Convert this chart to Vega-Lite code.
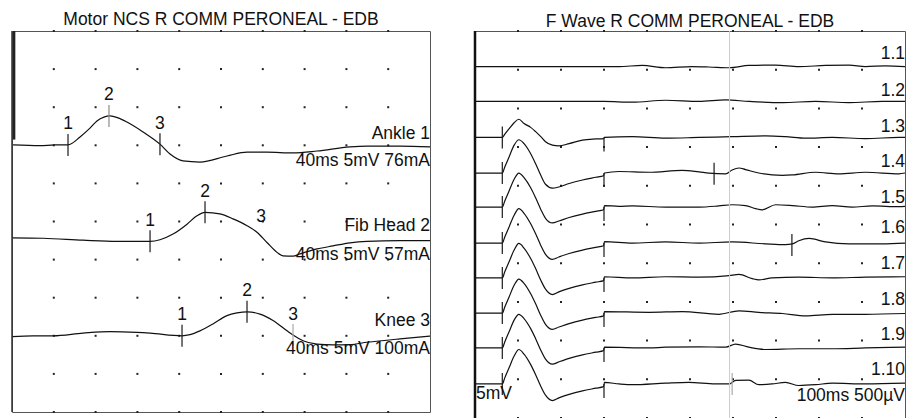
{
 "$schema": "https://vega.github.io/schema/vega-lite/v6.json",
 "padding": {"left": 9, "top": 10, "right": 0, "bottom": 0},
 "background": "white",
 "config": {
  "view": {"stroke": "#555", "strokeWidth": 1},
  "concat": {"spacing": 39},
  "font": "Liberation Sans",
  "title": {"fontSize": 17.5, "fontWeight": "normal", "color": "#111", "font": "Liberation Sans", "anchor": "middle"},
  "text": {"font": "Liberation Sans", "fontSize": 17.5, "color": "#111"}
 },
 "datasets": {
  "ltr": [
   {"trace":"Ankle","t":0.1,"v":7.01},{"trace":"Ankle","t":2.68,"v":6.99},{"trace":"Ankle","t":4.11,"v":7.01},{"trace":"Ankle","t":5.36,"v":7.01},{"trace":"Ankle","t":6.51,"v":7.22},{"trace":"Ankle","t":7.46,"v":7.45},{"trace":"Ankle","t":8.13,"v":7.64},{"trace":"Ankle","t":8.8,"v":7.74},{"trace":"Ankle","t":9.38,"v":7.77},{"trace":"Ankle","t":10.14,"v":7.72},{"trace":"Ankle","t":11.0,"v":7.61},{"trace":"Ankle","t":12.54,"v":7.35},{"trace":"Ankle","t":14.16,"v":7.03},{"trace":"Ankle","t":15.12,"v":6.77},{"trace":"Ankle","t":16.36,"v":6.59},{"trace":"Ankle","t":17.99,"v":6.56},{"trace":"Ankle","t":20.57,"v":6.72},{"trace":"Ankle","t":22.49,"v":6.82},{"trace":"Ankle","t":24.4,"v":6.82},{"trace":"Ankle","t":26.89,"v":6.8},{"trace":"Ankle","t":29.19,"v":6.85},{"trace":"Ankle","t":32.34,"v":6.96},{"trace":"Ankle","t":33.97,"v":6.98},{"trace":"Ankle","t":37.13,"v":6.98},{"trace":"Ankle","t":40.0,"v":6.96},
   {"trace":"Fib Head","t":0.0,"v":4.57},{"trace":"Fib Head","t":2.97,"v":4.56},{"trace":"Fib Head","t":6.79,"v":4.51},{"trace":"Fib Head","t":10.05,"v":4.48},{"trace":"Fib Head","t":13.21,"v":4.48},{"trace":"Fib Head","t":14.16,"v":4.52},{"trace":"Fib Head","t":15.41,"v":4.67},{"trace":"Fib Head","t":16.75,"v":4.93},{"trace":"Fib Head","t":17.7,"v":5.15},{"trace":"Fib Head","t":18.47,"v":5.24},{"trace":"Fib Head","t":19.9,"v":5.2},{"trace":"Fib Head","t":21.15,"v":5.07},{"trace":"Fib Head","t":22.49,"v":4.89},{"trace":"Fib Head","t":23.44,"v":4.72},{"trace":"Fib Head","t":24.4,"v":4.45},{"trace":"Fib Head","t":25.36,"v":4.19},{"trace":"Fib Head","t":25.93,"v":4.1},{"trace":"Fib Head","t":26.89,"v":4.09},{"trace":"Fib Head","t":27.56,"v":4.15},{"trace":"Fib Head","t":29.19,"v":4.28},{"trace":"Fib Head","t":30.72,"v":4.36},{"trace":"Fib Head","t":32.34,"v":4.44},{"trace":"Fib Head","t":33.97,"v":4.48},{"trace":"Fib Head","t":37.13,"v":4.5},{"trace":"Fib Head","t":40.0,"v":4.5},
   {"trace":"Knee","t":0.0,"v":1.98},{"trace":"Knee","t":2.01,"v":2.0},{"trace":"Knee","t":3.92,"v":2.0},{"trace":"Knee","t":6.79,"v":2.07},{"trace":"Knee","t":9.38,"v":2.11},{"trace":"Knee","t":11.96,"v":2.09},{"trace":"Knee","t":13.21,"v":2.07},{"trace":"Knee","t":16.27,"v":2.0},{"trace":"Knee","t":17.03,"v":2.03},{"trace":"Knee","t":17.99,"v":2.13},{"trace":"Knee","t":19.23,"v":2.31},{"trace":"Knee","t":20.57,"v":2.53},{"trace":"Knee","t":21.53,"v":2.6},{"trace":"Knee","t":22.49,"v":2.63},{"trace":"Knee","t":23.73,"v":2.57},{"trace":"Knee","t":24.98,"v":2.4},{"trace":"Knee","t":26.32,"v":2.13},{"trace":"Knee","t":26.89,"v":2.02},{"trace":"Knee","t":27.85,"v":1.87},{"trace":"Knee","t":29.19,"v":1.78},{"trace":"Knee","t":30.72,"v":1.76},{"trace":"Knee","t":32.34,"v":1.77},{"trace":"Knee","t":33.97,"v":1.83},{"trace":"Knee","t":37.13,"v":1.92},{"trace":"Knee","t":40.0,"v":1.99}
  ],
  "lgrid": [
   {"t":4,"vs":[0,1,2,3,4,5,6,7,8,9,10]},{"t":8,"vs":[0,1,2,3,4,5,6,7,8,9,10]},{"t":12,"vs":[0,1,2,3,4,5,6,7,8,9,10]},{"t":16,"vs":[0,1,2,3,4,5,6,7,8,9,10]},{"t":20,"vs":[0,1,2,3,4,5,6,7,8,9,10]},{"t":24,"vs":[0,1,2,3,4,5,6,7,8,9,10]},{"t":28,"vs":[0,1,2,3,4,5,6,7,8,9,10]},{"t":32,"vs":[0,1,2,3,4,5,6,7,8,9,10]},{"t":36,"vs":[0,1,2,3,4,5,6,7,8,9,10]}
  ],
  "fgrid": [
   {"t":10,"vs":[0,1,2,3,4,5,6,7,8,9,10]},{"t":20,"vs":[0,1,2,3,4,5,6,7,8,9,10]},{"t":30,"vs":[0,1,2,3,4,5,6,7,8,9,10]},{"t":40,"vs":[0,1,2,3,4,5,6,7,8,9,10]},{"t":50,"vs":[0,1,2,3,4,5,6,7,8,9,10]},{"t":60,"vs":[0,1,2,3,4,5,6,7,8,9,10]},{"t":70,"vs":[0,1,2,3,4,5,6,7,8,9,10]},{"t":80,"vs":[0,1,2,3,4,5,6,7,8,9,10]},{"t":90,"vs":[0,1,2,3,4,5,6,7,8,9,10]}
  ],
  "lmk": [
   {"trace":"Ankle","m":"1","t":5.36,"v":7.01,"tone":"dark"},
   {"trace":"Ankle","m":"2","t":9.28,"v":7.77,"tone":"gray"},
   {"trace":"Ankle","m":"3","t":14.16,"v":7.03,"tone":"dark"},
   {"trace":"Fib Head","m":"1","t":13.21,"v":4.48,"tone":"dark"},
   {"trace":"Fib Head","m":"2","t":18.47,"v":5.24,"tone":"dark"},
   {"trace":"Fib Head","m":"3","t":23.83,"v":4.59,"tone":"none"},
   {"trace":"Knee","m":"1","t":16.27,"v":2.0,"tone":"dark"},
   {"trace":"Knee","m":"2","t":22.49,"v":2.63,"tone":"dark"},
   {"trace":"Knee","m":"3","t":26.89,"v":2.02,"tone":"light"}
  ],
  "llab": [
   {"t":40,"v":7.17,"text":"Ankle 1"},
   {"t":40,"v":6.46,"text":"40ms 5mV 76mA"},
   {"t":40,"v":4.75,"text":"Fib Head 2"},
   {"t":40,"v":3.99,"text":"40ms 5mV 57mA"},
   {"t":40,"v":2.26,"text":"Knee 3"},
   {"t":40,"v":1.52,"text":"40ms 5mV 100mA"}
  ],
  "ftr": [
   {"trace":"1.1","t":0,"v":9.08},{"trace":"1.1","t":15,"v":9.08},{"trace":"1.1","t":30,"v":9.08},{"trace":"1.1","t":33.5,"v":9.08},{"trace":"1.1","t":38.9,"v":9.11},{"trace":"1.1","t":44.3,"v":9.05},{"trace":"1.1","t":50.5,"v":9.08},{"trace":"1.1","t":54.4,"v":9.07},{"trace":"1.1","t":59.1,"v":9.05},{"trace":"1.1","t":63.7,"v":9.11},{"trace":"1.1","t":69.9,"v":9.12},{"trace":"1.1","t":75.3,"v":9.08},{"trace":"1.1","t":81.5,"v":9.11},{"trace":"1.1","t":87.0,"v":9.12},{"trace":"1.1","t":90.8,"v":9.08},{"trace":"1.1","t":95.5,"v":9.1},{"trace":"1.1","t":100,"v":9.08},
   {"trace":"1.2","t":0,"v":8.18},{"trace":"1.2","t":15,"v":8.18},{"trace":"1.2","t":30,"v":8.18},{"trace":"1.2","t":36.6,"v":8.16},{"trace":"1.2","t":44.3,"v":8.21},{"trace":"1.2","t":52.1,"v":8.18},{"trace":"1.2","t":58.3,"v":8.22},{"trace":"1.2","t":63.7,"v":8.18},{"trace":"1.2","t":71.5,"v":8.15},{"trace":"1.2","t":79.2,"v":8.18},{"trace":"1.2","t":87.0,"v":8.15},{"trace":"1.2","t":94.7,"v":8.18},{"trace":"1.2","t":100,"v":8.18},
   {"trace":"1.3","t":0,"v":7.25},{"trace":"1.3","t":3.3,"v":7.25},{"trace":"1.3","t":6.35,"v":7.25},{"trace":"1.3","t":6.9,"v":7.33},{"trace":"1.3","t":7.9,"v":7.47},{"trace":"1.3","t":9.1,"v":7.63},{"trace":"1.3","t":10.2,"v":7.72},{"trace":"1.3","t":11.4,"v":7.61},{"trace":"1.3","t":12.95,"v":7.51},{"trace":"1.3","t":14.1,"v":7.4},{"trace":"1.3","t":15.3,"v":7.27},{"trace":"1.3","t":16.4,"v":7.14},{"trace":"1.3","t":18.0,"v":7.05},{"trace":"1.3","t":19.5,"v":7.03},{"trace":"1.3","t":21.9,"v":7.09},{"trace":"1.3","t":25.0,"v":7.18},{"trace":"1.3","t":28.1,"v":7.21},{"trace":"1.3","t":29.9,"v":7.22},{"trace":"1.3","t":30.1,"v":7.25},{"trace":"1.3","t":36.6,"v":7.27},{"trace":"1.3","t":44.3,"v":7.23},{"trace":"1.3","t":52.1,"v":7.25},{"trace":"1.3","t":59.8,"v":7.27},{"trace":"1.3","t":67.6,"v":7.29},{"trace":"1.3","t":72.2,"v":7.27},{"trace":"1.3","t":76.9,"v":7.23},{"trace":"1.3","t":83.1,"v":7.25},{"trace":"1.3","t":90.8,"v":7.22},{"trace":"1.3","t":98.6,"v":7.25},{"trace":"1.3","t":100,"v":7.25},
   {"trace":"1.4","t":0,"v":6.33},{"trace":"1.4","t":3.3,"v":6.33},{"trace":"1.4","t":6.35,"v":6.33},{"trace":"1.4","t":6.9,"v":6.48},{"trace":"1.4","t":7.9,"v":6.74},{"trace":"1.4","t":9.1,"v":7.05},{"trace":"1.4","t":10.2,"v":7.19},{"trace":"1.4","t":11.4,"v":7.09},{"trace":"1.4","t":12.95,"v":6.83},{"trace":"1.4","t":14.1,"v":6.57},{"trace":"1.4","t":15.3,"v":6.27},{"trace":"1.4","t":16.4,"v":6.04},{"trace":"1.4","t":18.0,"v":5.94},{"trace":"1.4","t":19.5,"v":5.97},{"trace":"1.4","t":21.9,"v":6.06},{"trace":"1.4","t":25.0,"v":6.15},{"trace":"1.4","t":28.1,"v":6.22},{"trace":"1.4","t":29.9,"v":6.26},{"trace":"1.4","t":30.1,"v":6.33},{"trace":"1.4","t":33.5,"v":6.37},{"trace":"1.4","t":40.5,"v":6.35},{"trace":"1.4","t":48.2,"v":6.4},{"trace":"1.4","t":52.1,"v":6.36},{"trace":"1.4","t":54.4,"v":6.33},{"trace":"1.4","t":58.3,"v":6.31},{"trace":"1.4","t":59.8,"v":6.41},{"trace":"1.4","t":61.4,"v":6.46},{"trace":"1.4","t":62.9,"v":6.42},{"trace":"1.4","t":66.0,"v":6.33},{"trace":"1.4","t":71.5,"v":6.27},{"trace":"1.4","t":73.8,"v":6.28},{"trace":"1.4","t":79.2,"v":6.35},{"trace":"1.4","t":84.6,"v":6.31},{"trace":"1.4","t":90.8,"v":6.35},{"trace":"1.4","t":98.6,"v":6.31},{"trace":"1.4","t":100,"v":6.33},
   {"trace":"1.5","t":0,"v":5.45},{"trace":"1.5","t":3.3,"v":5.45},{"trace":"1.5","t":6.35,"v":5.45},{"trace":"1.5","t":6.9,"v":5.6},{"trace":"1.5","t":7.9,"v":5.86},{"trace":"1.5","t":9.1,"v":6.17},{"trace":"1.5","t":10.2,"v":6.33},{"trace":"1.5","t":11.4,"v":6.21},{"trace":"1.5","t":12.95,"v":5.95},{"trace":"1.5","t":14.1,"v":5.69},{"trace":"1.5","t":15.3,"v":5.39},{"trace":"1.5","t":16.4,"v":5.16},{"trace":"1.5","t":18.0,"v":5.04},{"trace":"1.5","t":19.5,"v":5.09},{"trace":"1.5","t":21.9,"v":5.18},{"trace":"1.5","t":25.0,"v":5.27},{"trace":"1.5","t":28.1,"v":5.34},{"trace":"1.5","t":29.9,"v":5.38},{"trace":"1.5","t":30.1,"v":5.49},{"trace":"1.5","t":33.5,"v":5.47},{"trace":"1.5","t":36.6,"v":5.48},{"trace":"1.5","t":44.3,"v":5.45},{"trace":"1.5","t":52.1,"v":5.45},{"trace":"1.5","t":56.7,"v":5.48},{"trace":"1.5","t":59.8,"v":5.51},{"trace":"1.5","t":62.9,"v":5.49},{"trace":"1.5","t":65.3,"v":5.41},{"trace":"1.5","t":66.8,"v":5.38},{"trace":"1.5","t":69.9,"v":5.51},{"trace":"1.5","t":73.8,"v":5.49},{"trace":"1.5","t":78.4,"v":5.45},{"trace":"1.5","t":83.1,"v":5.49},{"trace":"1.5","t":87.7,"v":5.45},{"trace":"1.5","t":92.4,"v":5.48},{"trace":"1.5","t":98.6,"v":5.46},{"trace":"1.5","t":100,"v":5.47},
   {"trace":"1.6","t":0,"v":4.52},{"trace":"1.6","t":3.3,"v":4.52},{"trace":"1.6","t":6.35,"v":4.52},{"trace":"1.6","t":6.9,"v":4.67},{"trace":"1.6","t":7.9,"v":4.93},{"trace":"1.6","t":9.1,"v":5.24},{"trace":"1.6","t":10.2,"v":5.41},{"trace":"1.6","t":11.4,"v":5.29},{"trace":"1.6","t":12.95,"v":5.02},{"trace":"1.6","t":14.1,"v":4.76},{"trace":"1.6","t":15.3,"v":4.46},{"trace":"1.6","t":16.4,"v":4.23},{"trace":"1.6","t":18.0,"v":4.1},{"trace":"1.6","t":19.5,"v":4.16},{"trace":"1.6","t":21.9,"v":4.25},{"trace":"1.6","t":25.0,"v":4.34},{"trace":"1.6","t":28.1,"v":4.41},{"trace":"1.6","t":29.9,"v":4.45},{"trace":"1.6","t":30.1,"v":4.56},{"trace":"1.6","t":36.6,"v":4.52},{"trace":"1.6","t":44.3,"v":4.55},{"trace":"1.6","t":52.1,"v":4.52},{"trace":"1.6","t":59.8,"v":4.55},{"trace":"1.6","t":67.6,"v":4.5},{"trace":"1.6","t":72.2,"v":4.48},{"trace":"1.6","t":73.8,"v":4.5},{"trace":"1.6","t":75.3,"v":4.58},{"trace":"1.6","t":77.7,"v":4.64},{"trace":"1.6","t":81.5,"v":4.55},{"trace":"1.6","t":87.0,"v":4.5},{"trace":"1.6","t":94.7,"v":4.5},{"trace":"1.6","t":100,"v":4.52},
   {"trace":"1.7","t":0,"v":3.62},{"trace":"1.7","t":3.3,"v":3.62},{"trace":"1.7","t":6.35,"v":3.62},{"trace":"1.7","t":6.9,"v":3.77},{"trace":"1.7","t":7.9,"v":4.03},{"trace":"1.7","t":9.1,"v":4.34},{"trace":"1.7","t":10.2,"v":4.51},{"trace":"1.7","t":11.4,"v":4.39},{"trace":"1.7","t":12.95,"v":4.12},{"trace":"1.7","t":14.1,"v":3.86},{"trace":"1.7","t":15.3,"v":3.56},{"trace":"1.7","t":16.4,"v":3.33},{"trace":"1.7","t":18.0,"v":3.19},{"trace":"1.7","t":19.5,"v":3.26},{"trace":"1.7","t":21.9,"v":3.35},{"trace":"1.7","t":25.0,"v":3.44},{"trace":"1.7","t":28.1,"v":3.51},{"trace":"1.7","t":29.9,"v":3.55},{"trace":"1.7","t":30.1,"v":3.65},{"trace":"1.7","t":36.6,"v":3.62},{"trace":"1.7","t":44.3,"v":3.65},{"trace":"1.7","t":52.1,"v":3.64},{"trace":"1.7","t":59.1,"v":3.68},{"trace":"1.7","t":61.4,"v":3.71},{"trace":"1.7","t":64.5,"v":3.6},{"trace":"1.7","t":66.0,"v":3.57},{"trace":"1.7","t":69.1,"v":3.62},{"trace":"1.7","t":75.3,"v":3.64},{"trace":"1.7","t":83.1,"v":3.62},{"trace":"1.7","t":90.8,"v":3.64},{"trace":"1.7","t":100,"v":3.65},
   {"trace":"1.8","t":0,"v":2.71},{"trace":"1.8","t":3.3,"v":2.71},{"trace":"1.8","t":6.35,"v":2.71},{"trace":"1.8","t":6.9,"v":2.86},{"trace":"1.8","t":7.9,"v":3.12},{"trace":"1.8","t":9.1,"v":3.43},{"trace":"1.8","t":10.2,"v":3.59},{"trace":"1.8","t":11.4,"v":3.48},{"trace":"1.8","t":12.95,"v":3.21},{"trace":"1.8","t":14.1,"v":2.95},{"trace":"1.8","t":15.3,"v":2.65},{"trace":"1.8","t":16.4,"v":2.42},{"trace":"1.8","t":18.0,"v":2.29},{"trace":"1.8","t":19.5,"v":2.35},{"trace":"1.8","t":21.9,"v":2.44},{"trace":"1.8","t":25.0,"v":2.53},{"trace":"1.8","t":28.1,"v":2.6},{"trace":"1.8","t":29.9,"v":2.64},{"trace":"1.8","t":30.1,"v":2.75},{"trace":"1.8","t":40.5,"v":2.73},{"trace":"1.8","t":48.2,"v":2.75},{"trace":"1.8","t":56.7,"v":2.68},{"trace":"1.8","t":61.4,"v":2.77},{"trace":"1.8","t":66.0,"v":2.73},{"trace":"1.8","t":71.5,"v":2.7},{"trace":"1.8","t":76.9,"v":2.64},{"trace":"1.8","t":83.1,"v":2.68},{"trace":"1.8","t":90.8,"v":2.68},{"trace":"1.8","t":100,"v":2.7},
   {"trace":"1.9","t":0,"v":1.81},{"trace":"1.9","t":3.3,"v":1.81},{"trace":"1.9","t":6.35,"v":1.81},{"trace":"1.9","t":6.9,"v":1.96},{"trace":"1.9","t":7.9,"v":2.22},{"trace":"1.9","t":9.1,"v":2.53},{"trace":"1.9","t":10.2,"v":2.68},{"trace":"1.9","t":11.4,"v":2.57},{"trace":"1.9","t":12.95,"v":2.31},{"trace":"1.9","t":14.1,"v":2.05},{"trace":"1.9","t":15.3,"v":1.75},{"trace":"1.9","t":16.4,"v":1.52},{"trace":"1.9","t":18.0,"v":1.39},{"trace":"1.9","t":19.5,"v":1.45},{"trace":"1.9","t":21.9,"v":1.54},{"trace":"1.9","t":25.0,"v":1.63},{"trace":"1.9","t":28.1,"v":1.7},{"trace":"1.9","t":29.9,"v":1.74},{"trace":"1.9","t":30.1,"v":1.83},{"trace":"1.9","t":40.5,"v":1.81},{"trace":"1.9","t":44.3,"v":1.83},{"trace":"1.9","t":52.1,"v":1.84},{"trace":"1.9","t":58.3,"v":1.83},{"trace":"1.9","t":60.6,"v":1.91},{"trace":"1.9","t":63.7,"v":1.83},{"trace":"1.9","t":67.6,"v":1.77},{"trace":"1.9","t":75.3,"v":1.79},{"trace":"1.9","t":83.1,"v":1.79},{"trace":"1.9","t":90.8,"v":1.81},{"trace":"1.9","t":100,"v":1.83},
   {"trace":"1.10","t":0,"v":0.88},{"trace":"1.10","t":3.3,"v":0.88},{"trace":"1.10","t":6.35,"v":0.88},{"trace":"1.10","t":6.9,"v":1.03},{"trace":"1.10","t":7.9,"v":1.29},{"trace":"1.10","t":9.1,"v":1.6},{"trace":"1.10","t":10.2,"v":1.77},{"trace":"1.10","t":11.4,"v":1.65},{"trace":"1.10","t":12.95,"v":1.38},{"trace":"1.10","t":14.1,"v":1.12},{"trace":"1.10","t":15.3,"v":0.82},{"trace":"1.10","t":16.4,"v":0.59},{"trace":"1.10","t":18.0,"v":0.45},{"trace":"1.10","t":19.5,"v":0.52},{"trace":"1.10","t":21.9,"v":0.61},{"trace":"1.10","t":25.0,"v":0.7},{"trace":"1.10","t":28.1,"v":0.77},{"trace":"1.10","t":29.9,"v":0.81},{"trace":"1.10","t":30.1,"v":0.92},{"trace":"1.10","t":33.5,"v":0.88},{"trace":"1.10","t":36.6,"v":0.86},{"trace":"1.10","t":44.3,"v":0.9},{"trace":"1.10","t":49.7,"v":0.92},{"trace":"1.10","t":55.9,"v":0.88},{"trace":"1.10","t":59.1,"v":0.88},{"trace":"1.10","t":60.6,"v":0.97},{"trace":"1.10","t":63.7,"v":0.98},{"trace":"1.10","t":66.0,"v":0.86},{"trace":"1.10","t":69.1,"v":0.88},{"trace":"1.10","t":72.2,"v":0.92},{"trace":"1.10","t":75.3,"v":0.84},{"trace":"1.10","t":79.2,"v":0.86},{"trace":"1.10","t":83.1,"v":0.9},{"trace":"1.10","t":90.8,"v":0.88},{"trace":"1.10","t":100,"v":0.9}
  ],
  "fmk": [
   {"trace":"1.3","kind":"mk","t":6.35,"v":7.25,"tone":"dark"},
   {"trace":"1.4","kind":"mk","t":6.35,"v":6.33,"tone":"dark"},
   {"trace":"1.5","kind":"mk","t":6.35,"v":5.45,"tone":"dark"},
   {"trace":"1.6","kind":"mk","t":6.35,"v":4.52,"tone":"dark"},
   {"trace":"1.7","kind":"mk","t":6.35,"v":3.62,"tone":"dark"},
   {"trace":"1.8","kind":"mk","t":6.35,"v":2.71,"tone":"dark"},
   {"trace":"1.9","kind":"mk","t":6.35,"v":1.81,"tone":"dark"},
   {"trace":"1.10","kind":"mk","t":6.35,"v":0.88,"tone":"dark"},
   {"trace":"1.4","kind":"mk","t":55.6,"v":6.31,"tone":"dark"},
   {"trace":"1.6","kind":"mk","t":73.7,"v":4.47,"tone":"dark"},
   {"trace":"1.10","kind":"mk","t":59.8,"v":0.88,"tone":"light"},
   {"trace":"1.3","kind":"sep","t":30,"v":7.25,"tone":"dark"},
   {"trace":"1.4","kind":"sep","t":30,"v":6.33,"tone":"dark"},
   {"trace":"1.5","kind":"sep","t":30,"v":5.45,"tone":"dark"},
   {"trace":"1.6","kind":"sep","t":30,"v":4.52,"tone":"dark"},
   {"trace":"1.7","kind":"sep","t":30,"v":3.62,"tone":"dark"},
   {"trace":"1.8","kind":"sep","t":30,"v":2.71,"tone":"dark"},
   {"trace":"1.9","kind":"sep","t":30,"v":1.81,"tone":"dark"},
   {"trace":"1.10","kind":"sep","t":30,"v":0.88,"tone":"dark"}
  ],
  "flab": [
   {"t":100,"v":9.27,"text":"1.1","side":"right"},
   {"t":100,"v":8.32,"text":"1.2","side":"right"},
   {"t":100,"v":7.4,"text":"1.3","side":"right"},
   {"t":100,"v":6.49,"text":"1.4","side":"right"},
   {"t":100,"v":5.56,"text":"1.5","side":"right"},
   {"t":100,"v":4.78,"text":"1.6","side":"right"},
   {"t":100,"v":3.84,"text":"1.7","side":"right"},
   {"t":100,"v":2.92,"text":"1.8","side":"right"},
   {"t":100,"v":2.02,"text":"1.9","side":"right"},
   {"t":100,"v":1.1,"text":"1.10","side":"right"},
   {"t":100,"v":0.44,"text":"100ms 500µV","side":"right"},
   {"t":0,"v":0.48,"text":"5mV","side":"left"}
  ],
  "one": [{"k": 1}]
 },
 "hconcat": [
  {
   "width": 418,
   "height": 381,
   "title": {"text": "Motor NCS R COMM PERONEAL - EDB", "offset": 1},
   "layer": [
    {
     "data": {"name": "lgrid"},
     "transform": [{"flatten": ["vs"], "as": ["gv"]}],
     "mark": {"type": "square", "size": 4, "color": "#222", "opacity": 1, "filled": true},
     "encoding": {
      "x": {"field": "t", "type": "quantitative", "scale": {"domain": [0, 40], "nice": false, "zero": false}, "axis": null},
      "y": {"field": "gv", "type": "quantitative", "scale": {"domain": [0, 10], "nice": false, "zero": false}, "axis": null}
     }
    },
    {
     "data": {"name": "ltr"},
     "mark": {"type": "line", "interpolate": "monotone", "color": "#111", "strokeWidth": 1.2},
     "encoding": {
      "x": {"field": "t", "type": "quantitative", "axis": null},
      "y": {"field": "v", "type": "quantitative", "axis": null},
      "detail": {"field": "trace"}
     }
    },
    {
     "data": {"name": "one"},
     "mark": {"type": "rule", "color": "#333", "strokeWidth": 1.5},
     "encoding": {"x": {"datum": 0, "type": "quantitative", "axis": null}}
    },
    {
     "data": {"name": "one"},
     "mark": {"type": "rule", "color": "#222", "strokeWidth": 2.5},
     "encoding": {"x": {"datum": 0.2, "type": "quantitative", "axis": null}, "y": {"datum": 7.15, "type": "quantitative", "axis": null}, "y2": {"datum": 10}}
    },
    {
     "data": {"name": "lmk"},
     "transform": [{"filter": "datum.tone != 'none'"}],
     "mark": {"type": "tick", "orient": "vertical", "size": 22, "thickness": 1.2, "opacity": 1},
     "encoding": {
      "x": {"field": "t", "type": "quantitative", "axis": null},
      "y": {"field": "v", "type": "quantitative", "axis": null},
      "color": {"field": "tone", "type": "nominal", "scale": {"domain": ["dark", "gray", "light"], "range": ["#1a1a1a", "#8a8a8a", "#aaaaaa"]}, "legend": null}
     }
    },
    {
     "data": {"name": "lmk"},
     "mark": {"type": "text", "align": "center", "baseline": "alphabetic", "dy": -15.5},
     "encoding": {
      "x": {"field": "t", "type": "quantitative", "axis": null},
      "y": {"field": "v", "type": "quantitative", "axis": null},
      "text": {"field": "m"}
     }
    },
    {
     "data": {"name": "llab"},
     "mark": {"type": "text", "align": "right", "baseline": "alphabetic"},
     "encoding": {
      "x": {"field": "t", "type": "quantitative", "axis": null},
      "y": {"field": "v", "type": "quantitative", "axis": null},
      "text": {"field": "text"}
     }
    }
   ]
  },
  {
   "width": 430,
   "height": 387,
   "title": {"text": "F  Wave R COMM PERONEAL - EDB", "offset": -1},
   "layer": [
    {
     "data": {"name": "fgrid"},
     "transform": [{"flatten": ["vs"], "as": ["gv"]}],
     "mark": {"type": "square", "size": 4, "color": "#222", "opacity": 1, "filled": true},
     "encoding": {
      "x": {"field": "t", "type": "quantitative", "scale": {"domain": [0, 100], "nice": false, "zero": false}, "axis": null},
      "y": {"field": "gv", "type": "quantitative", "scale": {"domain": [0, 10], "nice": false, "zero": false}, "axis": null}
     }
    },
    {
     "data": {"name": "ftr"},
     "mark": {"type": "line", "interpolate": "monotone", "color": "#111", "strokeWidth": 1.2},
     "encoding": {
      "x": {"field": "t", "type": "quantitative", "axis": null},
      "y": {"field": "v", "type": "quantitative", "axis": null},
      "detail": {"field": "trace"}
     }
    },
    {
     "data": {"name": "one"},
     "mark": {"type": "rule", "color": "#cccccc", "strokeWidth": 1},
     "encoding": {"x": {"datum": 59.2, "type": "quantitative", "axis": null}}
    },
    {
     "data": {"name": "one"},
     "mark": {"type": "rule", "color": "#111", "strokeWidth": 2.5},
     "encoding": {"x": {"datum": 0, "type": "quantitative", "axis": null}}
    },
    {
     "data": {"name": "fmk"},
     "transform": [{"filter": "datum.kind == 'mk'"}],
     "mark": {"type": "tick", "orient": "vertical", "size": 22, "thickness": 1.2, "opacity": 1},
     "encoding": {
      "x": {"field": "t", "type": "quantitative", "axis": null},
      "y": {"field": "v", "type": "quantitative", "axis": null},
      "color": {"field": "tone", "type": "nominal", "scale": {"domain": ["dark", "light"], "range": ["#1a1a1a", "#b5b5b5"]}, "legend": null}
     }
    },
    {
     "data": {"name": "fmk"},
     "transform": [{"filter": "datum.kind == 'sep'"}],
     "mark": {"type": "tick", "orient": "vertical", "size": 14, "thickness": 1.2, "opacity": 1, "yOffset": 7, "color": "#1a1a1a"},
     "encoding": {
      "x": {"field": "t", "type": "quantitative", "axis": null},
      "y": {"field": "v", "type": "quantitative", "axis": null}
     }
    },
    {
     "data": {"name": "flab"},
     "transform": [{"filter": "datum.side == 'right'"}],
     "mark": {"type": "text", "align": "right", "baseline": "alphabetic"},
     "encoding": {
      "x": {"field": "t", "type": "quantitative", "axis": null},
      "y": {"field": "v", "type": "quantitative", "axis": null},
      "text": {"field": "text"}
     }
    },
    {
     "data": {"name": "flab"},
     "transform": [{"filter": "datum.side == 'left'"}],
     "mark": {"type": "text", "align": "left", "baseline": "alphabetic", "dx": 1},
     "encoding": {
      "x": {"field": "t", "type": "quantitative", "axis": null},
      "y": {"field": "v", "type": "quantitative", "axis": null},
      "text": {"field": "text"}
     }
    }
   ]
  }
 ]
}
